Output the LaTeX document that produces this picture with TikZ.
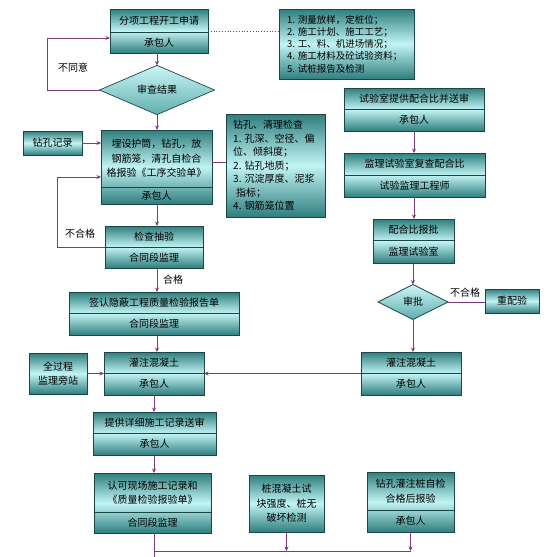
\documentclass[tikz,border=0pt]{standalone}
\usepackage{fontspec}
\newfontfamily\cjk{Noto Sans CJK SC}
\usetikzlibrary{arrows.meta,shapes.geometric,fit,calc}
\definecolor{tdark}{HTML}{2F7E7E}
\definecolor{tlight}{HTML}{C2F4F4}
\definecolor{tborder}{HTML}{1C4646}
\definecolor{dlight}{HTML}{CDF6F6}
\definecolor{dmid}{HTML}{5FAEAE}
\definecolor{conncol}{HTML}{7A3D7A}
\tikzset{
  boxst/.style={draw=tborder, line width=0.7pt, top color=tdark, bottom color=tdark, middle color=tlight, inner sep=0pt, outer sep=0pt},
  divst/.style={draw=tborder, line width=0.6pt},
  txt/.style={font=\cjk\fontsize{10}{14.5}\selectfont, align=center, inner sep=0pt, text=black},
  lst/.style={font=\cjk\fontsize{9.5}{12.2}\selectfont, align=left, inner sep=0pt, text=black},
  chk/.style={font=\cjk\fontsize{10}{13.5}\selectfont, align=left, inner sep=0pt, text=black},
  dia/.style={diamond, draw=tborder, line width=0.7pt, top color=dlight, bottom color=dmid, inner sep=0pt, outer sep=0pt, font=\cjk\fontsize{10}{12}\selectfont},
  link/.style={draw=conncol, line width=0.8pt},
  arr/.style={link, -{Stealth[length=4.5pt,width=4pt]}},
  lab/.style={font=\cjk\fontsize{10}{12}\selectfont, inner sep=0pt, text=black},
}
% name, x1, y1, x2, y2, ydiv, top text, bottom text
\newcommand\twobox[8]{%
  \node[boxst, fit={(#2,#3)(#4,#5)}] (#1) {};
  \draw[divst] (#2,#6) -- (#4,#6);
  \pgfmathsetmacro\cxx{(#2+#4)/2}%
  \pgfmathsetmacro\tyy{(#3+#6)/2}%
  \pgfmathsetmacro\byy{(#6+#5)/2}%
  \node[txt] (#1-t) at (\cxx,\tyy) {#7};
  \node[txt] (#1-b) at (\cxx,\byy) {#8};
}
% name, x1, y1, x2, y2, text
\newcommand\onebox[6]{%
  \node[boxst, fit={(#2,#3)(#4,#5)}] (#1) {};
  \pgfmathsetmacro\cxx{(#2+#4)/2}%
  \pgfmathsetmacro\cyy{(#3+#5)/2}%
  \node[txt] (#1-t) at (\cxx,\cyy) {#6};
}
\begin{document}
\begin{tikzpicture}[x=1pt,y=-1pt]
\useasboundingbox (0,0) rectangle (560,557);
\fill[white] (0,0) rectangle (560,557);

% left column
\twobox{A}{110}{9}{208}{53}{32}{分项工程开工申请}{承包人}
\node[dia, minimum width=115pt, minimum height=42pt] (D1) at (157,90) {审查结果};
\onebox{R}{23}{131}{82}{155}{钻孔记录}
\twobox{B}{101}{130}{212}{204}{187}{埋设护筒，钻孔，放\\钢筋笼，清孔自检合\\格报验《工序交验单》}{承包人}
\twobox{E}{105}{226}{203}{268}{247}{检查抽验}{合同段监理}
\twobox{F}{69}{292}{239}{335}{313}{签认隐蔽工程质量检验报告单}{合同段监理}
\twobox{G}{104}{352}{204}{395}{373}{灌注混凝土}{承包人}
\onebox{H}{29}{353}{87}{394}{全过程\\监理旁站}
\twobox{I}{93}{412}{216}{455}{433}{提供详细施工记录送审}{承包人}
\twobox{J}{94}{473}{211}{533}{512}{认可现场施工记录和\\《质量检验报验单》}{合同段监理}

% lists
\node[boxst, fit={(279,9)(414,79)}] (L) {};
\node[lst, anchor=west] (L-t) at (287,44) {1. 测量放样，定桩位；\\2. 施工计划、施工工艺；\\3. 工、料、机进场情况；\\4. 施工材料及砼试验资料；\\5. 试桩报告及检测};
\node[boxst, fit={(226,114)(325,217)}] (C) {};
\node[chk, anchor=west] (C-t) at (233,165.5) {钻孔、清理检查\\1. 孔深、空径、偏\\位、倾斜度；\\2. 钻孔地质；\\3. 沉淀厚度、泥浆\\\hspace*{0.3em}指标；\\4. 钢筋笼位置};

% right column
\twobox{P1}{344}{88}{484}{131}{109}{试验室提供配合比并送审}{承包人}
\twobox{P2}{344}{153}{485}{197}{175}{监理试验室复查配合比}{试验监理工程师}
\twobox{P3}{373}{219}{454}{263}{240}{配合比报批}{监理试验室}
\node[dia, minimum width=70pt, minimum height=35pt] (D2) at (413,302) {审批};
\onebox{Q}{485}{289}{539}{313}{重配验}
\twobox{G2}{361}{352}{461}{395}{373}{灌注混凝土}{承包人}

% bottom
\onebox{K}{249}{475}{324}{532}{桩混凝土试\\块强度、桩无\\破坏检测}
\twobox{M}{367}{472}{454}{532}{510}{钻孔灌注桩自检\\合格后报验}{承包人}

\coordinate (hl) at (0,551);
\coordinate (jend) at (154,557);

% connectors
\draw[arr] (D1.north |- A.south) -- (D1.north);
\draw[arr] (D1.west) -- ++(-52,0) |- ([yshift=-7pt]A.west);
\draw[link, dotted] (A.east) -- (A.east -| L.west);
\draw[arr] (D1.south) -- (D1.south |- B.north);
\draw[arr] (R.east) -- (R.east -| B.west);
\draw[link] ([yshift=5pt]B.east) -- ([yshift=5pt]B.east -| C.west);
\draw[arr] (D1.south |- B.south) -- (D1.south |- E.north);
\draw[arr] (E.west) -- ++(-48,0) |- ([yshift=-10pt]B.west);
\draw[arr] (D1.south |- E.south) -- (D1.south |- F.north);
\draw[arr] (D1.south |- F.south) -- (D1.south |- G.north);
\draw[arr] (H.east) -- (H.east -| G.west);
\draw[arr] (G2.west) -- (G2.west -| G.east);
\draw[arr] (jend |- G.south) -- (jend |- I.north);
\draw[arr] (jend |- I.south) -- (jend |- J.north);
\draw[link] (jend |- J.south) -- (jend);
\draw[link] (jend |- hl) -- (M.south |- hl);
\draw[arr] (K.south) -- (K.south |- hl);
\draw[arr] (M.south) -- (M.south |- hl);

\draw[arr] (P1.south) -- (P1.south |- P2.north);
\draw[arr] (P1.south |- P2.south) -- (P1.south |- P3.north);
\draw[arr] (D2.north |- P3.south) -- (D2.north);
\draw[link] (D2.east) -- (D2.east -| Q.west);
\draw[arr] (D2.south) -- (D2.south |- G2.north);

% labels
\node[lab] (l1) at (73,68) {不同意};
\node[lab] (l2) at (80,234) {不合格};
\node[lab] (l3) at (173,280) {合格};
\node[lab] (l4) at (465,293) {不合格};
\end{tikzpicture}
\end{document}
